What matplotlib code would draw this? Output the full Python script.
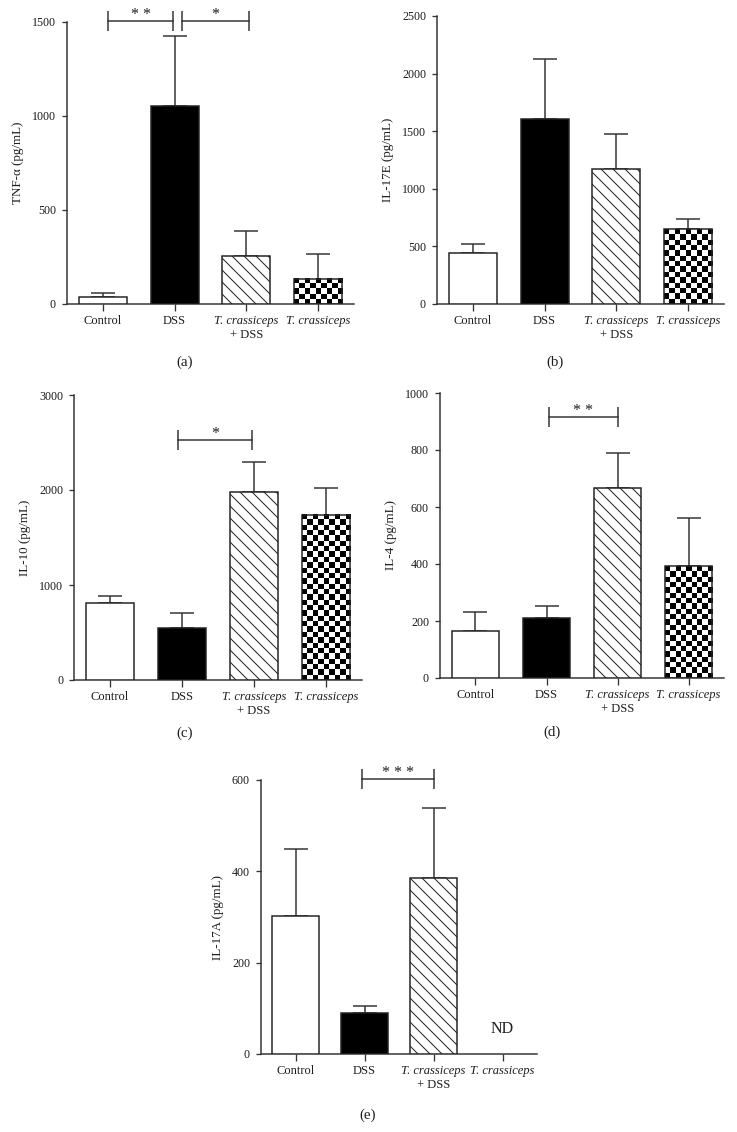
import numpy as np
import matplotlib
matplotlib.use('Agg')
import matplotlib.pyplot as plt

plt.rcParams['font.family'] = ['Liberation Serif', 'DejaVu Serif']
plt.rcParams['hatch.linewidth'] = 1.0

# 数据
groups = ['Control', 'DSS', 'T. crassiceps', 'T. crassiceps']

tnf_vals = [35, 1051, 257, 135]
tnf_err = [23, 376, 131, 133]

il17e_vals = [439, 1604, 1170, 647]
il17e_err = [84, 526, 307, 87]

il10_vals = [807, 551, 1982, 1737]
il10_err = [74, 151, 313, 284]

il4_vals = [164, 209, 667, 392]
il4_err = [68, 42, 122, 168]

il17a_vals = [302, 90, 386, None]   # 最后一组 ND
il17a_err = [146, 16, 152, None]

W, H = 737, 1132
DPI = 72
LC = '#333333'
TC = '#1e1e1e'

fig = plt.figure(figsize=(W / DPI, H / DPI), dpi=DPI)


def make_ax(l, t, r, b):
    return fig.add_axes([l / W, 1 - b / H, (r - l) / W, (b - t) / H])


def checker(ax, x, w, h, ymax):
    # 棋盘格填充
    bb = ax.get_position()
    wpx = w / 4.0 * bb.width * W
    hpx = h / ymax * bb.height * H
    sq = 5.4
    nc = max(1, int(round(wpx / sq)))
    nr = max(1, int(round(hpx / sq)))
    ii, jj = np.indices((nr, nc))
    img = (ii + jj) % 2
    ax.imshow(img, cmap='gray', extent=(x - w / 2, x + w / 2, 0, h),
              aspect='auto', interpolation='nearest', zorder=2)


def panel(ax, vals, errs, ymax, step, ylabel, sig=None):
    width = 0.67
    fills = ['white', 'black', 'white', 'white']
    hatches = [None, None, '\\\\', None]
    for i, v in enumerate(vals):
        if v is None:
            continue
        if i == 3:
            checker(ax, i, width, v, ymax)
            ax.bar(i, v, width, facecolor='none', edgecolor='#222222',
                   linewidth=1.5, zorder=3)
        else:
            ax.bar(i, v, width, facecolor=fills[i], edgecolor='#222222',
                   hatch=hatches[i], linewidth=1.5, zorder=3)
        ax.errorbar(i, v, yerr=[[0], [errs[i]]], fmt='none', ecolor=LC,
                    elinewidth=1.5, capsize=12, capthick=1.5, zorder=1)
    ax.set_xlim(-0.5, 3.5)
    ax.set_ylim(0, ymax)
    ax.set_yticks(np.arange(0, ymax + 1, step))
    ax.set_xticks(range(4))
    ax.set_xticklabels(groups, fontsize=12.5)
    for lab in ax.get_xticklabels()[2:]:
        lab.set_style('italic')
    ax.annotate('+ DSS', xy=(2, 0), xycoords=('data', 'axes fraction'),
                xytext=(0, -25), textcoords='offset points',
                ha='center', va='top', fontsize=12.5, color=TC)
    ax.tick_params(axis='y', labelsize=12, length=5, width=1.3, color=LC,
                   labelcolor=TC, pad=6)
    ax.tick_params(axis='x', length=7, width=1.3, color=LC,
                   labelcolor=TC, pad=4)
    for s in ['top', 'right']:
        ax.spines[s].set_visible(False)
    for s in ['left', 'bottom']:
        ax.spines[s].set_color(LC)
        ax.spines[s].set_linewidth(1.5)
    ax.set_ylabel(ylabel, fontsize=13, color=TC, labelpad=8)
    if sig:
        for (x0, x1, y, txt) in sig:
            ax.plot([x0, x1], [y, y], color=LC, lw=1.5, clip_on=False)
            ax.plot([x0, x1], [y, y], ls='none', marker='|', markersize=20,
                    markeredgewidth=1.5, color=LC, clip_on=False)
            ax.annotate(' '.join(txt), xy=((x0 + x1) / 2, y), xytext=(0, 6),
                        textcoords='offset points', ha='center', va='center',
                        fontsize=16, color=TC, annotation_clip=False)


ax_a = make_ax(67, 22, 354, 304)
panel(ax_a, tnf_vals, tnf_err, 1500, 500, 'TNF-α (pg/mL)',
      sig=[(0.07, 0.98, 1507, '**'), (1.1, 2.04, 1507, '*')])

ax_b = make_ax(437, 16, 724, 304)
panel(ax_b, il17e_vals, il17e_err, 2500, 500, 'IL-17E (pg/mL)')

ax_c = make_ax(74, 395, 362, 680)
panel(ax_c, il10_vals, il10_err, 3000, 1000, 'IL-10 (pg/mL)',
      sig=[(0.94, 1.97, 2530, '*')])

ax_d = make_ax(440, 393, 724, 678)
panel(ax_d, il4_vals, il4_err, 1000, 200, 'IL-4 (pg/mL)',
      sig=[(1.03, 2.01, 916, '**')])

ax_e = make_ax(261, 780, 537, 1054)
panel(ax_e, il17a_vals, il17a_err, 600, 200, 'IL-17A (pg/mL)',
      sig=[(0.96, 2.0, 602, '***')])
ax_e.text(3, 55, 'ND', ha='center', va='center', fontsize=16, color=TC)

for lab, (px, py) in zip(['(a)', '(b)', '(c)', '(d)', '(e)'],
                         [(185, 362), (555, 362), (185, 733), (552, 732), (368, 1115)]):
    fig.text(px / W, 1 - py / H, lab, ha='center', va='center', fontsize=15,
             color=TC)

fig.savefig('out.png', dpi=DPI)
